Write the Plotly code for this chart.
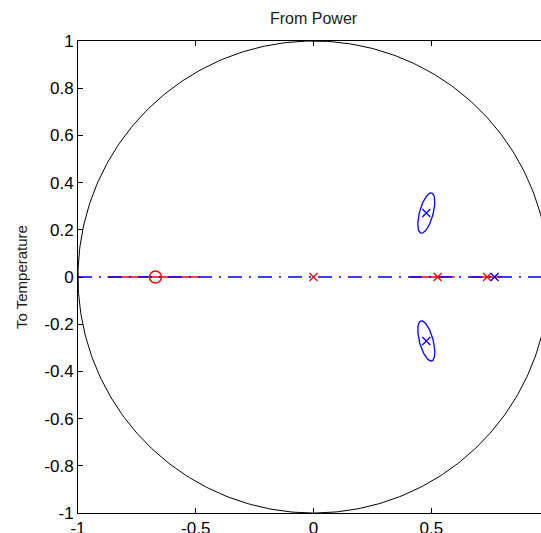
import numpy as np
import plotly.graph_objects as go

# ---- data ----
blue_pole_re = [0.479, 0.479, 0.769]
blue_pole_im = [0.271, -0.271, 0.0]
red_pole_re = [0.0, 0.527, 0.737]
red_pole_im = [0.0, 0.0, 0.0]
red_zero_re = [-0.671]
red_zero_im = [0.0]

# red confidence intervals on the real axis (start, end)
red_ci_start = [-0.875, 0.41, 0.67]
red_ci_end = [-0.484, 0.60, 0.80]

# blue confidence ellipses: centre, semi-axes, tilt (deg from x axis)
ell_cx = [0.479, 0.479]
ell_cy = [0.271, -0.271]
ell_a = [0.088, 0.088]
ell_b = [0.029, 0.029]
ell_tilt = [75, 105]

xtick_vals = [-1, -0.5, 0, 0.5]
xtick_text = ["-1", "-0.5", "0", "0.5"]
ytick_vals = [-1, -0.8, -0.6, -0.4, -0.2, 0, 0.2, 0.4, 0.6, 0.8, 1]
ytick_text = ["-1", "-0.8", "-0.6", "-0.4", "-0.2", "0", "0.2", "0.4", "0.6", "0.8", "1"]

title_text = "From Power"
ylabel_text = "To Temperature"

RED = "#ff0000"
BLUE = "#0000ff"
FONT = "Liberation Sans, Arial, sans-serif"

fig = go.Figure()

# unit circle
th = np.linspace(0, 2 * np.pi, 400)
fig.add_trace(go.Scatter(x=np.cos(th), y=np.sin(th), mode="lines",
                         line=dict(color="black", width=1), hoverinfo="skip"))

# red confidence segments
rx, ry = [], []
for s, e in zip(red_ci_start, red_ci_end):
    rx += [s, e, None]
    ry += [0, 0, None]
fig.add_trace(go.Scatter(x=rx, y=ry, mode="lines",
                         line=dict(color=RED, width=1.5), hoverinfo="skip"))

# blue dash-dot real axis line
fig.add_trace(go.Scatter(x=[-1, 1], y=[0, 0], mode="lines",
                         line=dict(color=BLUE, width=1.3, dash="14px,7px,2px,7px"),
                         hoverinfo="skip"))

# blue ellipses
t = np.linspace(0, 2 * np.pi, 120)
for cx, cy, a, b, ang in zip(ell_cx, ell_cy, ell_a, ell_b, ell_tilt):
    r = np.deg2rad(ang)
    ex = cx + a * np.cos(t) * np.cos(r) - b * np.sin(t) * np.sin(r)
    ey = cy + a * np.cos(t) * np.sin(r) + b * np.sin(t) * np.cos(r)
    fig.add_trace(go.Scatter(x=ex, y=ey, mode="lines",
                             line=dict(color=BLUE, width=1.3), hoverinfo="skip"))

# markers
fig.add_trace(go.Scatter(x=red_pole_re, y=red_pole_im, mode="markers",
                         marker=dict(symbol="x-thin-open", size=8, color=RED,
                                     line=dict(color=RED, width=1.3))))
fig.add_trace(go.Scatter(x=blue_pole_re, y=blue_pole_im, mode="markers",
                         marker=dict(symbol="x-thin-open", size=8, color=BLUE,
                                     line=dict(color=BLUE, width=1.3))))
fig.add_trace(go.Scatter(x=red_zero_re, y=red_zero_im, mode="markers",
                         marker=dict(symbol="circle-open", size=12, color=RED,
                                     line=dict(color=RED, width=1.5))))

fig.update_layout(
    width=541, height=533,
    margin=dict(l=78, r=0, t=41, b=20, autoexpand=False),
    paper_bgcolor="white", plot_bgcolor="white",
    showlegend=False,
    font=dict(family=FONT, color="black", size=17),
    xaxis=dict(range=[-1, 0.966], tickvals=xtick_vals, ticktext=xtick_text,
               ticks="inside", ticklen=5, tickcolor="black", automargin=False,
               showline=True, linecolor="black", linewidth=1, mirror="ticks",
               showgrid=False, zeroline=False, tickfont=dict(size=17)),
    yaxis=dict(range=[-1, 1], tickvals=ytick_vals, ticktext=ytick_text,
               ticks="inside", ticklen=5, tickcolor="black", automargin=False,
               showline=True, linecolor="black", linewidth=1,
               showgrid=False, zeroline=False, tickfont=dict(size=17)),
    annotations=[
        dict(text=title_text, x=0, xref="x", y=1, yref="paper", yanchor="bottom",
             yshift=12, showarrow=False, font=dict(size=16, color="#222")),
        dict(text=ylabel_text, x=-57 / 463, xref="paper", y=0, yref="y",
             textangle=-90, showarrow=False, xanchor="center", yanchor="middle",
             font=dict(size=15, color="#222")),
    ],
)

fig.write_html("out.html")
